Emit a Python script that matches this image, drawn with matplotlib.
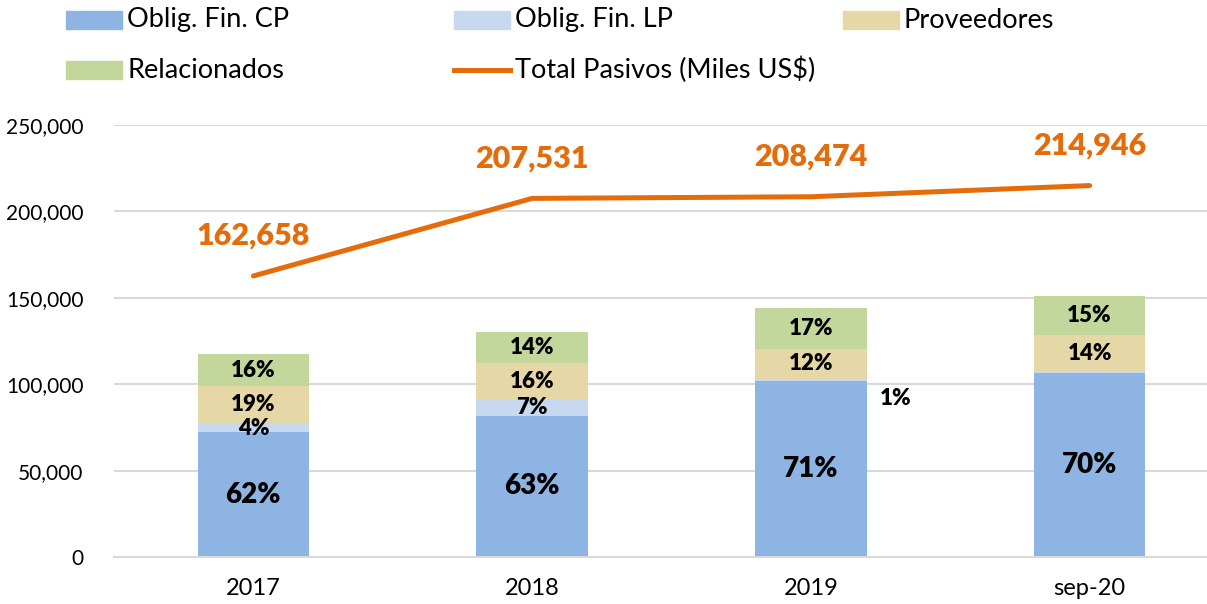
import matplotlib.pyplot as plt
from matplotlib.patches import Rectangle
from matplotlib.lines import Line2D
import numpy as np

plt.rcParams['font.family'] = ['Lato', 'DejaVu Sans']

# data (US$ thousands as shown on the axis)
periods = ['2017', '2018', '2019', 'sep-20']
oblig_cp = [72300, 81770, 101900, 106300]
oblig_lp = [4700, 9665, 1300, 600]
proveedores = [22000, 20600, 17200, 21750]
relacionados = [18300, 17960, 23900, 22350]
total_pasivos = [162658, 207531, 208474, 214946]

series = [('Oblig. Fin. CP', oblig_cp, '#8EB4E3'),
          ('Oblig. Fin. LP', oblig_lp, '#C6D9F1'),
          ('Proveedores', proveedores, '#E6D8A6'),
          ('Relacionados', relacionados, '#C3D69B')]
line_name = 'Total Pasivos (Miles US$)'
line_color = '#E46C0A'

W, H = 1207, 604
fig = plt.figure(figsize=(W / 100, H / 100), dpi=100)
ax = fig.add_axes([114 / W, 47 / H, 1115 / W, 432 / H])

x = np.arange(len(periods))
stack_sum = np.sum([s[1] for s in series], axis=0)
bottom = np.zeros(len(periods))
for name, vals, color in series:
    vals = np.array(vals, dtype=float)
    ax.bar(x, vals, 0.4, bottom=bottom, color=color, zorder=2)
    for i, v in enumerate(vals):
        pct = v / stack_sum[i] * 100
        if pct < 0.5:
            continue
        size = 20 if name == 'Oblig. Fin. CP' else 16
        if pct < 2:
            # tiny slice: label sits to the right of the bar
            ax.annotate(f'{pct:.0f}%', (x[i] + 0.2, bottom[i] + v / 2),
                        xytext=(29, -19), textcoords='offset pixels',
                        ha='center', va='center', fontsize=size, fontweight='heavy')
        else:
            ax.text(x[i], bottom[i] + v / 2, f'{pct:.0f}%', ha='center', va='center',
                    fontsize=size, fontweight='heavy', zorder=3)
    bottom += vals

ax.plot(x, total_pasivos, color=line_color, lw=3.6, zorder=3, solid_capstyle='round')
for i, v in enumerate(total_pasivos):
    ax.annotate(f'{v:,}', (x[i], v), xytext=(0, 40), textcoords='offset pixels',
                ha='center', va='center', fontsize=22, fontweight='heavy', color=line_color)

ax.set_xlim(-0.5, len(periods) - 0.5)
ax.set_ylim(0, 250000)
ax.set_yticks(range(0, 250001, 50000))
ax.yaxis.set_major_formatter(plt.FuncFormatter(lambda v, p: f'{v:,.0f}'))
ax.set_xticks(x)
ax.set_xticklabels(periods)
ax.tick_params(axis='both', length=0, colors='black')
ax.tick_params(axis='y', pad=22, labelsize=15)
ax.tick_params(axis='x', pad=15, labelsize=17)
ax.grid(axis='y', color='#D9D9D9', lw=1.5, zorder=0)
for s in ['top', 'right', 'left']:
    ax.spines[s].set_visible(False)
ax.spines['bottom'].set_color('#D9D9D9')
ax.spines['bottom'].set_linewidth(1.5)

# legend laid out like the spreadsheet one: 3 equal columns, 2 rows
col_x = [66, 454, 843]
row_y = [20, 70]
entries = [(n, c) for n, _, c in series] + [(line_name, None)]
for k, (name, color) in enumerate(entries):
    px, py = col_x[k % 3], row_y[k // 3]
    if color is None:
        fig.add_artist(Line2D([px / W, (px + 56) / W], [1 - py / H, 1 - py / H],
                              color=line_color, lw=3.6, transform=fig.transFigure))
    else:
        fig.add_artist(Rectangle((px / W, 1 - (py + 9) / H), 56 / W, 18 / H,
                                 color=color, transform=fig.transFigure))
    fig.text((px + 61) / W, 1 - py / H, name, ha='left', va='center', fontsize=19.5)

fig.savefig('out.png', dpi=100)
